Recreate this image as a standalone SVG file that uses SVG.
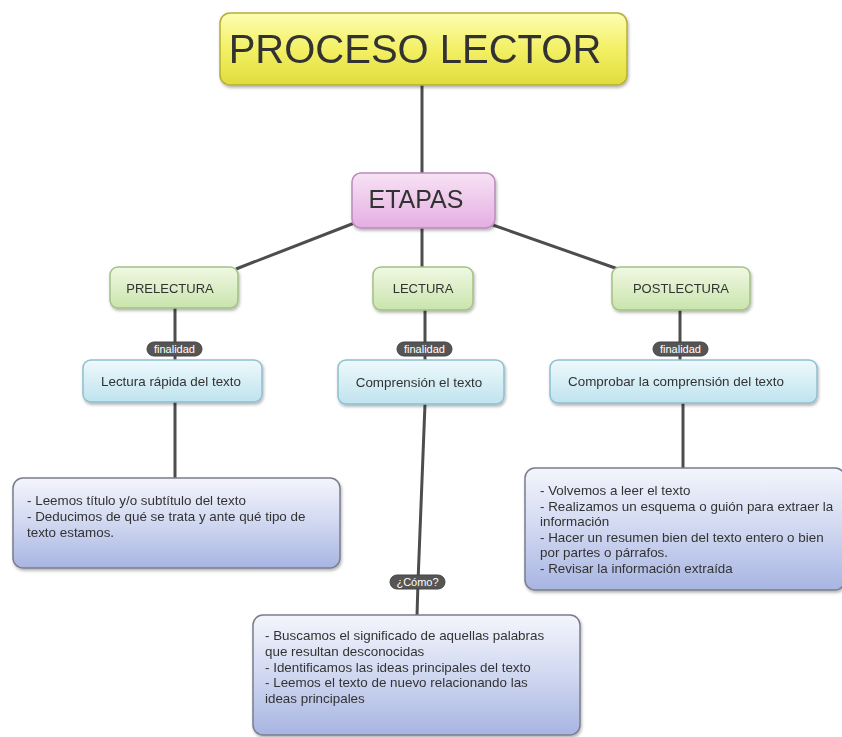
<svg xmlns="http://www.w3.org/2000/svg" width="842" height="737" viewBox="0 0 842 737">
<defs>
<linearGradient id="gY" x1="0" y1="0" x2="0" y2="1"><stop offset="0" stop-color="#fdfdb0"/><stop offset="0.5" stop-color="#f3f066"/><stop offset="1" stop-color="#e0dc3a"/></linearGradient>
<linearGradient id="gP" x1="0" y1="0" x2="0" y2="1"><stop offset="0" stop-color="#f8e2f5"/><stop offset="1" stop-color="#e4aee2"/></linearGradient>
<linearGradient id="gG" x1="0" y1="0" x2="0" y2="1"><stop offset="0" stop-color="#f0f8e2"/><stop offset="1" stop-color="#c9e4ad"/></linearGradient>
<linearGradient id="gB" x1="0" y1="0" x2="0" y2="1"><stop offset="0" stop-color="#eef9fc"/><stop offset="1" stop-color="#bfe3ef"/></linearGradient>
<linearGradient id="gL" x1="0" y1="0" x2="0" y2="1"><stop offset="0" stop-color="#f4f5fc"/><stop offset="0.45" stop-color="#d4dbf2"/><stop offset="1" stop-color="#a8b5e2"/></linearGradient>
<filter id="sh" x="-10%" y="-10%" width="120%" height="130%"><feDropShadow dx="1" dy="2" stdDeviation="1.5" flood-color="#000" flood-opacity="0.3"/></filter>
</defs>
<style>
.con{stroke:#4d4d4d;stroke-width:3;fill:none}
.t{font-family:"Liberation Sans",Arial,sans-serif;fill:#333}
.lab{fill:#555;stroke:#444;stroke-width:1}
.labt{font-family:"Liberation Sans",Arial,sans-serif;fill:#fff;font-size:11px;text-anchor:middle}
.box{filter:url(#sh)}
</style>
<g id="connectors">
<line class="con" x1="422" y1="85" x2="422" y2="174"/>
<line class="con" x1="357" y1="222" x2="236" y2="269"/>
<line class="con" x1="422" y1="228" x2="422" y2="268"/>
<line class="con" x1="490" y1="224" x2="618" y2="269"/>
<line class="con" x1="175" y1="308" x2="175" y2="361"/>
<line class="con" x1="425" y1="310" x2="425" y2="361"/>
<line class="con" x1="680" y1="310" x2="680" y2="361"/>
<line class="con" x1="175" y1="402" x2="175" y2="480"/>
<line class="con" x1="683" y1="403" x2="683" y2="468"/>
<polyline class="con" points="425,404 418,582 417,616"/>
<g id="lab1"><rect class="lab" x="147" y="342" width="55" height="14" rx="7"/><text class="labt" x="174.5" y="353">finalidad</text></g>
<g id="lab2"><rect class="lab" x="397" y="342" width="55" height="14" rx="7"/><text class="labt" x="424.5" y="353">finalidad</text></g>
<g id="lab3"><rect class="lab" x="653" y="342" width="55" height="14" rx="7"/><text class="labt" x="680.5" y="353">finalidad</text></g>
<g id="lab4"><rect class="lab" x="390" y="575" width="55" height="14" rx="7"/><text class="labt" x="417.5" y="586">¿Cómo?</text></g>
</g>
<g id="n-title" class="box"><rect x="220" y="13" width="407" height="72" rx="10" fill="url(#gY)" stroke="#b5ae35" stroke-width="1.5"/><text class="t" x="415" y="63" font-size="40" text-anchor="middle" fill="#222">PROCESO LECTOR</text></g>
<g id="n-etapas" class="box"><rect x="352" y="173" width="143" height="55" rx="9" fill="url(#gP)" stroke="#b98cba" stroke-width="1.5"/><text class="t" x="416" y="208" font-size="25" text-anchor="middle">ETAPAS</text></g>
<g id="n-pre" class="box"><rect x="110" y="267" width="128" height="41" rx="8" fill="url(#gG)" stroke="#a3c184" stroke-width="1.5"/><text class="t" x="170" y="293" font-size="13" text-anchor="middle">PRELECTURA</text></g>
<g id="n-lec" class="box"><rect x="373" y="267" width="100" height="43" rx="8" fill="url(#gG)" stroke="#a3c184" stroke-width="1.5"/><text class="t" x="423" y="293" font-size="13" text-anchor="middle">LECTURA</text></g>
<g id="n-post" class="box"><rect x="612" y="267" width="138" height="43" rx="8" fill="url(#gG)" stroke="#a3c184" stroke-width="1.5"/><text class="t" x="681" y="293" font-size="13" text-anchor="middle">POSTLECTURA</text></g>
<g id="n-rapida" class="box"><rect x="83" y="360" width="179" height="42" rx="8" fill="url(#gB)" stroke="#8fbfcf" stroke-width="1.5"/><text class="t" x="171" y="386" font-size="13.4" text-anchor="middle">Lectura rápida del texto</text></g>
<g id="n-compr" class="box"><rect x="338" y="360" width="166" height="44" rx="8" fill="url(#gB)" stroke="#8fbfcf" stroke-width="1.5"/><text class="t" x="419" y="387" font-size="13.4" text-anchor="middle">Comprensión el texto</text></g>
<g id="n-comprobar" class="box"><rect x="550" y="360" width="267" height="43" rx="8" fill="url(#gB)" stroke="#8fbfcf" stroke-width="1.5"/><text class="t" x="676" y="386" font-size="13.4" text-anchor="middle">Comprobar la comprensión del texto</text></g>
<g id="n-pre-det" class="box"><rect x="13" y="478" width="327" height="90" rx="10" fill="url(#gL)" stroke="#7a7d8c" stroke-width="1.5"/><text class="t" font-size="13.4"><tspan x="27" y="505">- Leemos título y/o subtítulo del texto</tspan><tspan x="27" y="521">- Deducimos de qué se trata y ante qué tipo de</tspan><tspan x="27" y="537">texto estamos.</tspan></text></g>
<g id="n-post-det" class="box"><rect x="525" y="468" width="320" height="122" rx="10" fill="url(#gL)" stroke="#7a7d8c" stroke-width="1.5"/><text class="t" font-size="13.4"><tspan x="540" y="495">- Volvemos a leer el texto</tspan><tspan x="540" y="511">- Realizamos un esquema o guión para extraer la</tspan><tspan x="540" y="526">información</tspan><tspan x="540" y="542">- Hacer un resumen bien del texto entero o bien</tspan><tspan x="540" y="557">por partes o párrafos.</tspan><tspan x="540" y="573">- Revisar la información extraída</tspan></text></g>
<g id="n-lec-det" class="box"><rect x="253" y="615" width="327" height="120" rx="10" fill="url(#gL)" stroke="#7a7d8c" stroke-width="1.5"/><text class="t" font-size="13.4"><tspan x="265" y="640">- Buscamos el significado de aquellas palabras</tspan><tspan x="265" y="656">que resultan desconocidas</tspan><tspan x="265" y="672">- Identificamos las ideas principales del texto</tspan><tspan x="265" y="687">- Leemos el texto de nuevo relacionando las</tspan><tspan x="265" y="703">ideas principales</tspan></text></g>
</svg>
